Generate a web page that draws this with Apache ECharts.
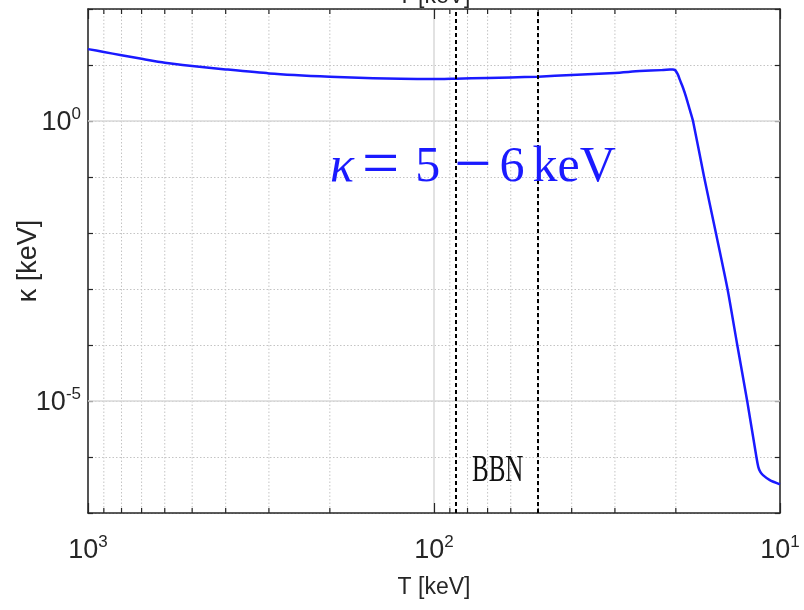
<!DOCTYPE html>
<html>
<head>
<meta charset="utf-8">
<script src="https://cdn.jsdelivr.net/npm/echarts@6/dist/echarts.min.js"></script>
<style>
html,body{margin:0;padding:0;background:#fff;}
#chart{width:804px;height:610px;}
</style>
</head>
<body>
<div id="chart"></div>
<script>
// ---- data ----
const temperature = [1000, 900, 800, 700, 600, 500, 400, 300, 200, 150, 125, 100, 86.6, 70, 60, 50, 40, 30, 25.4, 22, 20.8, 20.4, 20.1, 19.92, 19.7, 19.49, 19.07, 18.65, 18.24, 17.84, 16.57, 15.32, 14.18, 13.29, 12.44, 11.7, 11.55, 11.4, 11.2, 10.7, 10];
const kappa = [19.2, 17.1, 14.9, 12.9, 11.0, 9.64, 8.35, 7.08, 6.18, 5.81, 5.69, 5.60, 5.71, 5.88, 6.0, 6.18, 6.65, 7.22, 7.78, 8.1, 8.3, 8.34, 8.1, 7.5, 6.6, 5.53, 3.93, 2.60, 1.61, 1.0, 0.1, 0.01, 1e-3, 1e-4, 1e-5, 1e-6, 6.6e-7, 5.4e-7, 4.75e-7, 3.86e-7, 3.24e-7];
const bbnBounds = [86.6, 50];
const xMinorGrid = [900, 800, 700, 600, 500, 400, 300, 200, 90, 80, 70, 60, 50, 40, 30, 20];
const yMajorGrid = [1, 1e-5];
const yLabelledExponents = [0, -5];
const xRange = [10, 1000];
const yRange = [1e-7, 100];
const xTitle = 'T [keV]';
const yTitle = 'κ [keV]';
const bbnText = 'BBN';

const SANS = '"Liberation Sans", Arial, sans-serif';
const SERIF = '"Liberation Serif", "Times New Roman", serif';

function expLabel(v, onlySome) {
  const e = Math.round(Math.log10(v));
  if (onlySome && yLabelledExponents.indexOf(e) < 0) return '';
  return '{b|10}{s|' + e + '}';
}
const labelRich = {
  b: {fontSize: 27, lineHeight: 30, fontFamily: SANS, color: '#262626', verticalAlign: 'bottom'},
  s: {fontSize: 17, lineHeight: 17, fontFamily: SANS, color: '#262626', verticalAlign: 'top'}
};

const chart = echarts.init(document.getElementById('chart'), null, {renderer: 'canvas'});

const axisLineStyle = {color: '#262626', width: 1.5};

const option = {
  backgroundColor: '#ffffff',
  animation: false,
  grid: {left: 88, right: 24, top: 9, bottom: 97, containLabel: false, outerBoundsMode: 'none'},
  xAxis: [
    {
      type: 'log', logBase: 10, min: xRange[0], max: xRange[1], inverse: true, position: 'bottom',
      axisLine: {show: true, lineStyle: axisLineStyle},
      axisTick: {show: true, inside: true, length: 10, lineStyle: {color: '#262626', width: 1.2}},
      axisLabel: {show: true, margin: 21, formatter: v => expLabel(v, false), rich: labelRich},
      splitLine: {show: true, lineStyle: {color: '#d9d9d9', width: 1.5}},
      name: xTitle, nameLocation: 'middle', nameGap: 63, nameMoveOverlap: false,
      nameTextStyle: {fontSize: 23, fontFamily: SANS, color: '#262626'}
    },
    {
      type: 'log', logBase: 10, min: xRange[0], max: xRange[1], inverse: true, position: 'top',
      axisLine: {show: true, lineStyle: axisLineStyle},
      axisTick: {show: true, inside: true, length: 10, lineStyle: {color: '#262626', width: 1.2}},
      axisLabel: {show: false},
      splitLine: {show: false},
      name: xTitle, nameLocation: 'middle', nameGap: 1, nameMoveOverlap: false,
      nameTextStyle: {fontSize: 23, fontFamily: SANS, color: '#262626'}
    }
  ],
  yAxis: [
    {
      type: 'log', logBase: 10, min: yRange[0], max: yRange[1], position: 'left',
      axisLine: {show: true, lineStyle: axisLineStyle},
      axisTick: {show: true, inside: true, length: 5, lineStyle: {color: '#262626', width: 1.2}},
      axisLabel: {show: true, margin: 7, formatter: v => expLabel(v, true), rich: labelRich},
      splitLine: {show: true, lineStyle: {color: '#c4c4c4', width: 1, type: [1.5, 2]}},
      name: yTitle, nameLocation: 'middle', nameGap: 46, nameRotate: 90, nameMoveOverlap: false,
      nameTextStyle: {fontSize: 27, fontFamily: SANS, color: '#262626'}
    },
    {
      type: 'log', logBase: 10, min: yRange[0], max: yRange[1], position: 'right',
      axisLine: {show: true, lineStyle: axisLineStyle},
      axisTick: {show: true, inside: true, length: 5, lineStyle: {color: '#262626', width: 1.2}},
      axisLabel: {show: false},
      splitLine: {show: false}
    }
  ],
  series: [
    {
      // minor vertical grid lines + minor ticks on bottom/top
      type: 'custom', xAxisIndex: 0, yAxisIndex: 0, silent: true, z: 1,
      data: xMinorGrid.map(v => [v, 1]),
      renderItem: function (params, api) {
        const x = api.coord([api.value(0), 1])[0];
        const cs = params.coordSys;
        return {
          type: 'group',
          children: [
            {type: 'line', shape: {x1: x, y1: cs.y, x2: x, y2: cs.y + cs.height}, style: {stroke: '#c4c4c4', lineWidth: 1, lineDash: [1.5, 2]}},
            {type: 'line', shape: {x1: x, y1: cs.y + cs.height, x2: x, y2: cs.y + cs.height - 5}, style: {stroke: '#262626', lineWidth: 1.2}},
            {type: 'line', shape: {x1: x, y1: cs.y, x2: x, y2: cs.y + 5}, style: {stroke: '#262626', lineWidth: 1.2}}
          ]
        };
      }
    },
    {
      // major horizontal grid lines
      type: 'custom', xAxisIndex: 0, yAxisIndex: 0, silent: true, z: 1,
      data: yMajorGrid.map(v => [100, v]),
      renderItem: function (params, api) {
        const y = api.coord([100, api.value(1)])[1];
        const cs = params.coordSys;
        return {type: 'line', shape: {x1: cs.x, y1: y, x2: cs.x + cs.width, y2: y}, style: {stroke: '#d9d9d9', lineWidth: 1.5}};
      }
    },
    {
      type: 'line', xAxisIndex: 0, yAxisIndex: 0, z: 3,
      data: temperature.map((t, i) => [t, kappa[i]]),
      showSymbol: false, symbol: 'none', smooth: 0.2,
      lineStyle: {color: '#1a1aff', width: 2.5, join: 'round'},
      markLine: {
        silent: true, symbol: ['none', 'none'], label: {show: false},
        lineStyle: {color: '#000000', width: 2, type: [4, 3]},
        data: bbnBounds.map(v => ({xAxis: v}))
      }
    }
  ],
  graphic: [
    {
      type: 'text', x: 330, y: 138, z: 10,
      style: {
        text: '{i|κ}{o|=}{d|5}{m|−}{e|6}{u|keV}',
        verticalAlign: 'top',
        rich: {
          i: {fontFamily: SERIF, fontStyle: 'italic', fontSize: 50, lineHeight: 60, fill: '#1a1aff'},
          o: {fontFamily: SERIF, fontSize: 66, lineHeight: 60, fill: '#1a1aff', padding: [0, 0, 0, 8]},
          d: {fontFamily: SERIF, fontSize: 50, lineHeight: 60, fill: '#1a1aff', padding: [0, 0, 0, 16]},
          m: {fontFamily: SERIF, fontSize: 66, lineHeight: 60, fill: '#1a1aff', padding: [0, 0, 0, 14]},
          e: {fontFamily: SERIF, fontSize: 50, lineHeight: 60, fill: '#1a1aff', padding: [0, 0, 0, 8]},
          u: {fontFamily: SERIF, fontSize: 50, lineHeight: 60, fill: '#1a1aff', padding: [0, 0, 0, 8]}
        }
      }
    },
    {
      type: 'text', x: 472, y: 490, scaleY: 1.5, z: 10,
      style: {text: bbnText, fontFamily: SERIF, fontSize: 25, fill: '#111111', verticalAlign: 'bottom'}
    }
  ]
};
chart.setOption(option);
</script>
</body>
</html>
